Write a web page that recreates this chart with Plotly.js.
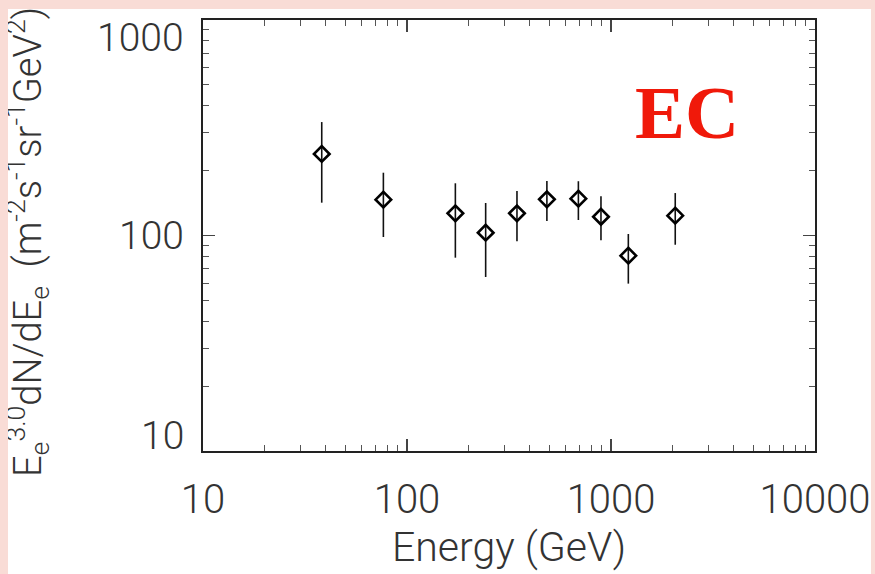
<!DOCTYPE html>
<html>
<head>
<meta charset="utf-8">
<script src="https://cdn.plot.ly/plotly-3.0.1.min.js"></script>
<style>
  html, body { margin: 0; padding: 0; background: #f9dcd6; width: 875px; height: 574px; overflow: hidden; }
  #chart { position: absolute; left: 8px; top: 9px; width: 863px; height: 565px; overflow: hidden; background: #ffffff; }
</style>
</head>
<body>
<div id="chart"></div>
<script>
// Data (energy in GeV, flux E^3 dN/dE)
const energy = [38.2, 76.6, 172.6, 243, 346, 485, 692, 893, 1216, 2065];
const flux   = [239, 146.6, 126.8, 103.0, 126.8, 147.2, 148.2, 122.2, 80.6, 123.6];
const fluxUpper = [336, 195.6, 174.7, 141.5, 160.9, 179.0, 178.6, 152.0, 101.6, 157.4];
const fluxLower = [142, 98.4, 78.9, 64.2, 94.0, 116.8, 118.0, 95.0, 59.8, 90.6];

const xTickVals = [10, 100, 1000, 10000];
const xTickText = ['10', '100', '1000', '10000'];
const yTickVals = [10, 100, 1000];
const yTickText = ['10', '100', '1000'];

const labelText = 'EC';
const xTitle = 'Energy (GeV)';
const yTitle = 'E<sub>e</sub><sup>3.0</sup>dN/dE<sub>e</sub>  (m<sup>-2</sup>s<sup>-1</sup>sr<sup>-1</sup>GeV<sup>2</sup>)';

const errPlus = flux.map((v, i) => fluxUpper[i] - v);
const errMinus = flux.map((v, i) => v - fluxLower[i]);

function minorVals(lo, hi) {
  const out = [];
  for (let d = lo; d < hi; d *= 10) {
    for (let k = 2; k <= 9; k++) out.push(d * k);
  }
  return out;
}

const fontFam = 'Roboto, "Liberation Sans", Arial, sans-serif';
const axisColor = '#222222';
const textColor = '#333333';

const trace = {
  x: energy,
  y: flux,
  type: 'scatter',
  mode: 'markers',
  marker: { symbol: 'diamond-open', size: 12, color: '#000000', line: { width: 2.6, color: '#000000' } },
  error_y: {
    type: 'data', symmetric: false, array: errPlus, arrayminus: errMinus,
    color: '#111111', thickness: 1.6, width: 0
  },
  hoverinfo: 'x+y',
  showlegend: false
};

const yLabelAnns = yTickVals.map((v, i) => {
  const last = yTickVals.length - 1;
  return {
    xref: 'paper', yref: 'y', x: 0, y: Math.log10(v),
    xanchor: 'right',
    yanchor: i === 0 ? 'bottom' : (i === last ? 'top' : 'middle'),
    xshift: -17,
    yshift: i === 0 ? -10 : (i === last ? 7 : 0),
    text: yTickText[i], showarrow: false,
    font: { family: fontFam, size: 39, color: textColor, weight: 300 }
  };
});

const layout = {
  width: 863, height: 565,
  margin: { l: 195, r: 56, t: 11, b: 123 },
  paper_bgcolor: '#ffffff',
  plot_bgcolor: '#ffffff',
  font: { family: fontFam, color: textColor, weight: 300 },
  xaxis: {
    type: 'log', range: [1, 4],
    tickvals: xTickVals, ticktext: xTickText,
    ticks: 'inside', ticklen: 12, tickwidth: 1.3, tickcolor: '#444444',
    minor: { tickvals: minorVals(10, 10000), ticks: 'inside', ticklen: 6, tickwidth: 1.2, tickcolor: '#555555', showgrid: false },
    showline: true, linecolor: axisColor, linewidth: 1.6, mirror: 'ticks',
    showgrid: false, zeroline: false,
    tickfont: { family: fontFam, size: 40, color: textColor, weight: 300 },
    ticklabelstandoff: 12,
    title: { text: xTitle, font: { family: fontFam, size: 41, color: textColor, weight: 300 }, standoff: 2 }
  },
  yaxis: {
    type: 'log', range: [1, 3],
    tickvals: yTickVals, ticktext: yTickText,
    ticks: 'inside', ticklen: 12, tickwidth: 1.3, tickcolor: '#444444',
    minor: { tickvals: minorVals(10, 1000), ticks: 'inside', ticklen: 6, tickwidth: 1.2, tickcolor: '#555555', showgrid: false },
    showline: true, linecolor: axisColor, linewidth: 1.6, mirror: 'ticks',
    showgrid: false, zeroline: false,
    showticklabels: false
  },
  annotations: [
    {
      xref: 'paper', yref: 'paper', x: 0.791, y: 0.785,
      xanchor: 'center', yanchor: 'middle',
      text: '<b>' + labelText + '</b>', showarrow: false,
      font: { family: '"Liberation Serif", "Times New Roman", serif', size: 75, color: '#f0190a' }
    },
    {
      xref: 'paper', yref: 'paper', x: 0, y: 0,
      xshift: -176, yshift: -28,
      xanchor: 'center', yanchor: 'bottom',
      textangle: -90,
      text: yTitle, showarrow: false,
      font: { family: fontFam, size: 38, color: textColor, weight: 300 }
    }
  ].concat(yLabelAnns)
};

Plotly.newPlot('chart', [trace], layout, { displayModeBar: false, staticPlot: true });
</script>
</body>
</html>
